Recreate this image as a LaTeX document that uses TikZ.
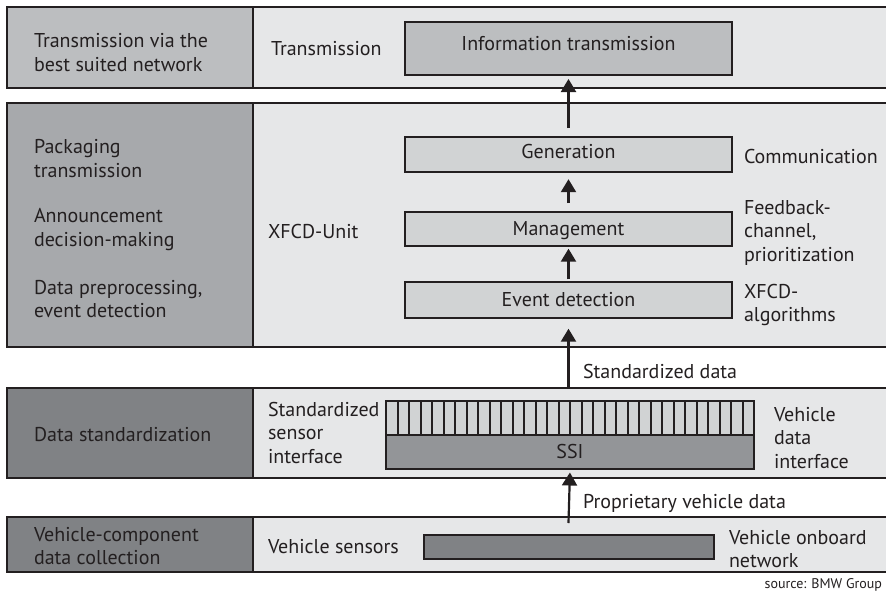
\documentclass[tikz,border=0pt]{standalone}
\usepackage{fontspec}
\setmainfont{PT Sans}
\usetikzlibrary{arrows.meta}
\definecolor{lineC}{HTML}{231F20}
\definecolor{grayA}{HTML}{BCBEC0}
\definecolor{grayB}{HTML}{A7A9AC}
\definecolor{grayD}{HTML}{808285}
\definecolor{paneC}{HTML}{E6E7E8}
\definecolor{boxC}{HTML}{D1D3D4}
\definecolor{ssiC}{HTML}{939598}
\newcommand\lblfont{\fontsize{20}{23.5}\selectfont}
\newcommand\srcfont{\fontsize{14}{16}\selectfont}
\begin{document}
\begin{tikzpicture}[x=1pt,y=-1pt,line width=2pt,
  lbl/.style={anchor=north west,inner sep=0pt,align=left,font=\lblfont,text=lineC},
  box/.style={draw=lineC,fill=boxC,minimum width=327pt,inner sep=0pt,font=\lblfont,text height=13.5pt,text depth=0pt,text=lineC},
  flow/.style={draw=lineC,line width=2.2pt,-{Triangle[length=13pt,width=15pt]}}]
\useasboundingbox (0,0) rectangle (886,592);
% bands
\foreach \t/\b/\c in {7.3/88.3/grayA,103.3/347.3/grayB,387.7/478.3/grayD,516.7/571.7/grayD}{
  \fill[\c] (7.3,\t) rectangle (253.3,\b);
  \fill[paneC] (253.3,\t) rectangle (890,\b);
  \draw[lineC] (890,\t) -- (7.3,\t) -- (7.3,\b) -- (890,\b);
  \draw[lineC] (253.3,\t) -- (253.3,\b);
}
% boxes
\node[box,fill=grayA,minimum height=53pt,text depth=9pt] (info) at (568.5,48.5) {Information transmission};
\node[box,minimum height=35pt,text depth=4pt] (gen) at (568.5,154.2) {Generation};
\node[box,minimum height=34pt] (man) at (568.5,228.7) {Management};
\node[box,minimum height=35.4pt] (evt) at (568.5,300) {Event detection};
\node[draw=lineC,fill=boxC,minimum width=368pt,minimum height=34pt,inner sep=0pt] (sbar) at (570,418) {};
\foreach \i in {1,...,31}{\draw[lineC] (386+\i*11.5,401) -- (386+\i*11.5,435);}
\node[box,fill=ssiC,minimum width=368pt,minimum height=34pt] (ssi) at (570,452) {SSI};
\node[draw=lineC,fill=grayD,minimum width=290pt,minimum height=24pt,inner sep=0pt] (bus) at (569,547) {};
% arrows
\coordinate (a4) at (568.5,388);
\coordinate (a5) at (568.5,523);
\draw[flow,shorten <=7.5pt,shorten >=3pt] (gen.north) -- (info.south);
\draw[flow,shorten <=7.5pt,shorten >=6.5pt] (man.north) -- (gen.south);
\draw[flow,shorten <=2pt,shorten >=2pt] (evt.north) -- (man.south);
\draw[flow,shorten >=10pt] (a4) -- (evt.south);
\draw[flow,shorten >=2.5pt] (a5) -- (ssi.south);
% labels
\node[lbl] (l1) at (33,30.25) {\strut Transmission via the\\\strut best suited network};
\node[lbl] (r1) at (270,37.55) {\strut Transmission};
\node[lbl] (l2a) at (33,136.25) {\strut Packaging\\\strut transmission};
\node[lbl] (l2b) at (33,205.25) {\strut Announcement\\\strut decision-making};
\node[lbl] (l2c) at (33,276.55) {\strut Data preprocessing,\\\strut event detection};
\node[lbl] (r2) at (267,220.55) {\strut XFCD-Unit};
\node[lbl] (c1) at (743,146.25) {\strut Communication};
\node[lbl] (c2) at (743,196.55) {\strut Feedback-\\\strut channel,\\\strut prioritization};
\node[lbl] (c3) at (743,280.55) {\strut XFCD-\\\strut algorithms};
\node[lbl] (g1) at (582,360.55) {\strut Standardized data};
\node[lbl] (r3) at (267,398.55) {\strut Standardized\\\strut sensor\\\strut interface};
\node[lbl] (c4) at (773,403.55) {\strut Vehicle\\\strut data\\\strut interface};
\node[lbl] (l3) at (33,423.55) {\strut Data standardization};
\node[lbl] (g2) at (582,490.55) {\strut Proprietary vehicle data};
\node[lbl] (l4) at (33,523.55) {\strut Vehicle-component\\\strut data collection};
\node[lbl] (r4) at (267,535.55) {\strut Vehicle sensors};
\node[lbl] (c5) at (728,526.55) {\strut Vehicle onboard\\\strut network};
\node[anchor=base east,inner sep=0pt,font=\srcfont,text=lineC] (src) at (883,588) {source: BMW Group};
\end{tikzpicture}
\end{document}
